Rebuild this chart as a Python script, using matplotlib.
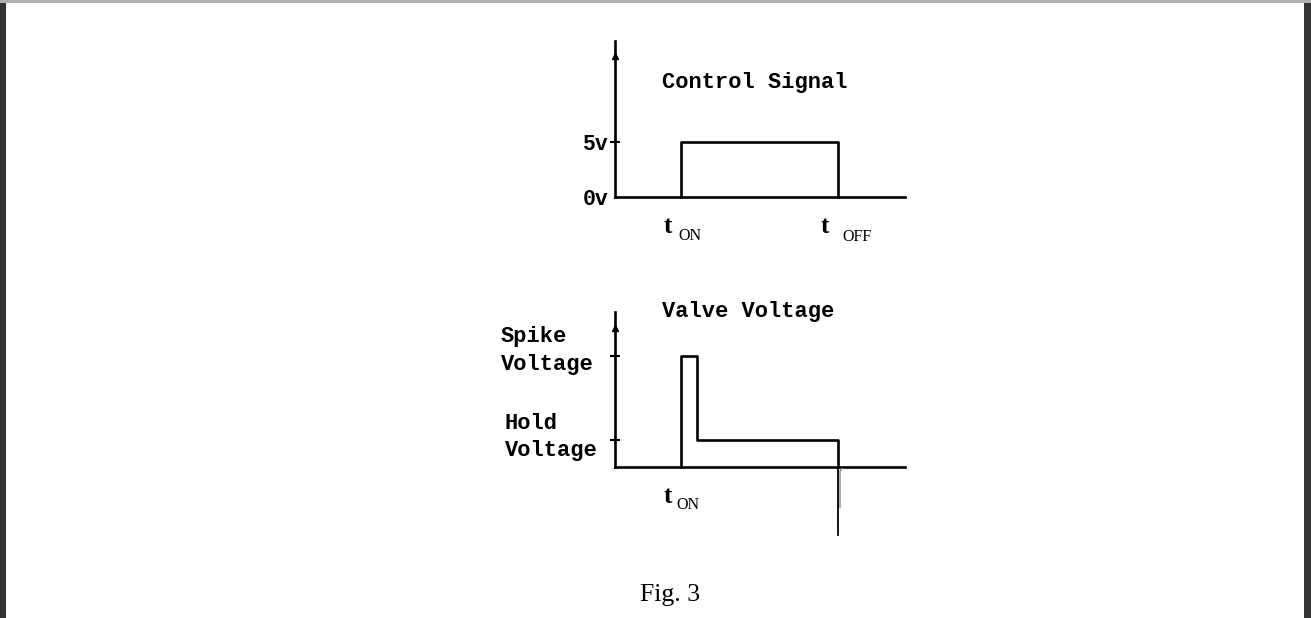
import matplotlib
matplotlib.use("Agg")
import matplotlib.pyplot as plt

# ---------------- data ----------------
# time axis (arbitrary units along the sweep)
t_axis_end = 290
t_on = 66
t_spike_end = 82
t_off = 223

# control signal levels (volts)
ctrl_low = 0
ctrl_high = 5
ctrl_ticks = [0, 5]
ctrl_tick_labels = ["0v", "5v"]

# valve voltage levels (relative units)
valve_zero = 0.0
valve_hold = 1.0
valve_spike = 4.1
valve_flyback = -2.52
valve_ringing = -1.5
valve_ticks = [valve_hold, valve_spike]

titles = ["Control Signal", "Valve Voltage"]
valve_labels = [("Spike", "Voltage"), ("Hold", "Voltage")]
caption = "Fig. 3"

# ---------------- figure ----------------
W, H = 1311, 618
fig = plt.figure(figsize=(W / 100, H / 100), dpi=100)
fig.patch.set_facecolor("white")

MONO = "Liberation Mono"
SERIF = "Liberation Serif"
LW = 1.9


def px_axes(left, top, right, bottom):
    return fig.add_axes([left / W, 1 - bottom / H, (right - left) / W, (bottom - top) / H])


# overlay in pixel coordinates for frame and free text
bg = fig.add_axes([0, 0, 1, 1])
bg.set_xlim(0, W)
bg.set_ylim(H, 0)
bg.axis("off")
bg.fill_between([0, 6], 0, H, color="#333333", lw=0)
bg.fill_between([1304, W], 0, H, color="#333333", lw=0)
bg.fill_between([0, W], 0, 3, color="#b0b0b0", lw=0)

# ---------- top: control signal ----------
ax1 = px_axes(615, 41, 905, 197)
ax1.set_xlim(0, t_axis_end)
ax1.set_ylim(0, 14.18)
for s in ax1.spines.values():
    s.set_visible(False)
ax1.patch.set_alpha(0)
ax1.plot([0, t_axis_end], [ctrl_low, ctrl_low], color="black", lw=LW, clip_on=False)
ax1.plot([0, 0], [ctrl_low, 14.18], color="black", lw=LW, clip_on=False)
ax1.plot([0], [12.8], marker="^", ms=4, color="black", clip_on=False)
ax1.plot([t_on, t_on, t_off, t_off], [ctrl_low, ctrl_high, ctrl_high, ctrl_low],
         color="black", lw=LW, clip_on=False)
ax1.set_xticks([])
ax1.set_yticks(ctrl_ticks)
ax1.set_yticklabels(ctrl_tick_labels, fontfamily=MONO, fontweight="bold", fontsize=15.5)
ax1.tick_params(axis="y", direction="inout", length=7, width=1.5, pad=1)
ax1.yaxis.get_major_ticks()[0].tick1line.set_visible(False)

# ---------- bottom: valve voltage ----------
ax2 = px_axes(615, 312, 905, 540)
ax2.set_xlim(0, t_axis_end)
ax2.set_ylim(-2.70, 5.74)
for s in ax2.spines.values():
    s.set_visible(False)
ax2.patch.set_alpha(0)
ax2.plot([0, t_axis_end], [valve_zero, valve_zero], color="black", lw=LW, clip_on=False)
ax2.plot([0, 0], [valve_zero, 5.74], color="black", lw=LW, clip_on=False)
ax2.plot([0], [5.15], marker="^", ms=4, color="black", clip_on=False)
ax2.plot([t_on, t_on, t_spike_end, t_spike_end, t_off, t_off],
         [valve_zero, valve_spike, valve_spike, valve_hold, valve_hold, valve_zero],
         color="black", lw=LW, clip_on=False)
ax2.plot([t_off, t_off], [valve_zero, valve_flyback], color="black", lw=1.3, clip_on=False)
ax2.plot([t_off + 4, t_off + 2, t_off + 2], [-0.05, -0.15, valve_ringing],
         color="#888888", lw=1.0, clip_on=False)
ax2.set_xticks([])
ax2.set_yticks(valve_ticks)
ax2.set_yticklabels([])
ax2.tick_params(axis="y", direction="inout", length=7, width=1.5)

# ---------- text ----------
mono_kw = dict(fontfamily=MONO, fontweight="bold", fontsize=15.8, va="baseline", ha="left")
bg.text(662, 88, titles[0], **mono_kw)
bg.text(662, 317, titles[1], **mono_kw)
bg.text(501, 342, valve_labels[0][0], **mono_kw)
bg.text(501, 370, valve_labels[0][1], **mono_kw)
bg.text(505, 429, valve_labels[1][0], **mono_kw)
bg.text(505, 456, valve_labels[1][1], **mono_kw)

t_kw = dict(fontfamily=SERIF, fontweight="bold", fontsize=18, va="baseline", ha="left")
sub_kw = dict(fontfamily=SERIF, fontsize=11.5, va="baseline", ha="left")
bg.text(664, 233, "t", **t_kw)
bg.text(678, 240, "ON", **sub_kw)
bg.text(821, 233, "t", **t_kw)
bg.text(842, 241, "OFF", **sub_kw)
bg.text(664, 503, "t", **t_kw)
bg.text(676, 509, "ON", **sub_kw)

bg.text(670, 601, caption, fontfamily=SERIF, fontsize=18.5, va="baseline", ha="center")

fig.savefig("out.png", dpi=100, facecolor="white")
